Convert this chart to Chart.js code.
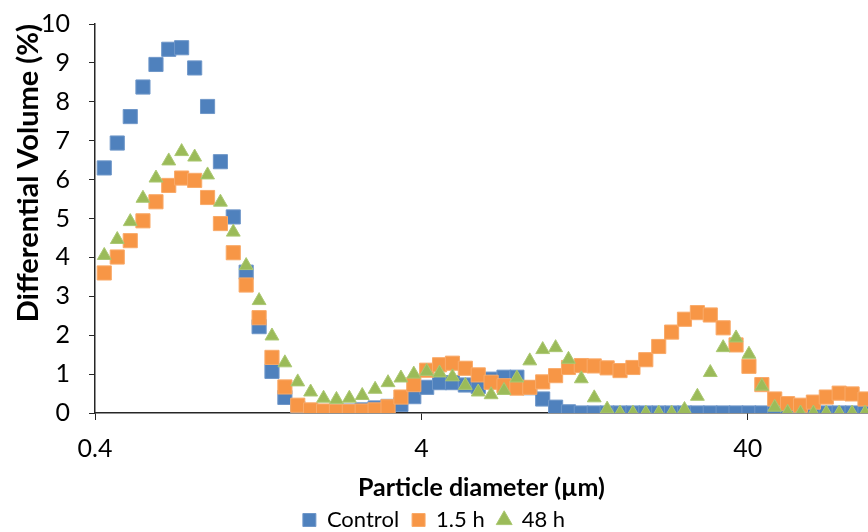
<!DOCTYPE html>
<html>
<head>
<meta charset="utf-8">
<script src="https://cdn.jsdelivr.net/npm/chart.js@4.4.1/dist/chart.umd.min.js"></script>
<style>
	html, body { margin: 0; padding: 0; background: #fff; overflow: hidden; }
	canvas { display: block; }
</style>
</head>
<body>
<canvas id="myChartScatter" width="868" height="532"></canvas>
<script>
// diametro das particulas (um)
var diametros = [0.427, 0.468, 0.513, 0.561, 0.615, 0.673, 0.737, 0.808, 0.885, 0.969,
	1.061, 1.162, 1.273, 1.394, 1.527, 1.672, 1.831, 2.006, 2.197, 2.406,
	2.635, 2.886, 3.161, 3.462, 3.791, 4.152, 4.547, 4.980, 5.454, 5.973,
	6.542, 7.164, 7.846, 8.593, 9.412, 10.31, 11.29, 12.36, 13.54, 14.83,
	16.24, 17.79, 19.48, 21.34, 23.37, 25.59, 28.03, 30.70, 33.62, 36.82,
	40.33, 44.17, 48.37, 52.98, 58.02, 63.54, 69.60, 76.22, 83.48, 91.44];

var controle = [6.30, 6.94, 7.62, 8.38, 8.96, 9.35, 9.39, 8.87, 7.88, 6.46,
	5.04, 3.62, 2.22, 1.07, 0.40, 0.12, 0.06, 0.04, 0.04, 0.05,
	0.08, 0.13, 0.17, 0.22, 0.42, 0.66, 0.78, 0.78, 0.72, 0.68,
	0.87, 0.92, 0.92, 0.65, 0.36, 0.15, 0.03, 0, 0, 0,
	0, 0, 0, 0, 0, 0, 0, 0, 0, 0,
	0, 0, 0, 0, 0, 0, 0, 0, 0, 0];

var h1_5 = [3.60, 4.01, 4.43, 4.94, 5.43, 5.85, 6.04, 5.98, 5.54, 4.87,
	4.12, 3.29, 2.45, 1.43, 0.67, 0.20, 0.08, 0.05, 0.04, 0.04,
	0.05, 0.08, 0.16, 0.41, 0.73, 1.10, 1.24, 1.28, 1.15, 0.98,
	0.79, 0.70, 0.64, 0.66, 0.80, 0.96, 1.17, 1.22, 1.21, 1.16,
	1.09, 1.17, 1.37, 1.71, 2.08, 2.41, 2.58, 2.52, 2.19, 1.75,
	1.20, 0.73, 0.36, 0.24, 0.20, 0.28, 0.41, 0.51, 0.49, 0.36];

var h48 = [4.05, 4.46, 4.92, 5.52, 6.04, 6.48, 6.72, 6.58, 6.12, 5.42,
	4.65, 3.79, 2.89, 1.98, 1.29, 0.80, 0.54, 0.38, 0.35, 0.38,
	0.45, 0.61, 0.78, 0.90, 1.00, 1.07, 1.03, 0.93, 0.71, 0.54,
	0.47, 0.58, 0.90, 1.34, 1.63, 1.68, 1.38, 0.88, 0.39, 0.10,
	0, 0, 0, 0, 0, 0.09, 0.43, 1.04, 1.68, 1.93,
	1.51, 0.69, 0.15, 0.02, 0, 0, 0, 0, 0, 0];

var ticksX = [0.4, 4, 40];

function pontos(valores)
{
	return diametros.map(function (d, i) { return { x: d, y: valores[i] }; });
}

var fonte = "Lato, 'Open Sans', sans-serif";

var ctx = document.getElementById('myChartScatter').getContext('2d');
var chart = new Chart(ctx, {
	type: 'scatter',
	data: {
		datasets: [
		{
			label: 'Control',
			data: pontos(controle),
			order: 2, // desenhado por baixo, como no Excel
			pointStyle: 'rect',
			pointRadius: 10,
			pointHoverRadius: 10,
			backgroundColor: '#4F81BD',
			borderColor: '#6f97c9',
			borderWidth: 1
		},
		{
			label: '1.5 h',
			data: pontos(h1_5),
			order: 1,
			pointStyle: 'rect',
			pointRadius: 10,
			pointHoverRadius: 10,
			backgroundColor: '#F79646',
			borderColor: '#f9aa69',
			borderWidth: 1
		},
		{
			label: '48 h',
			data: pontos(h48),
			order: 0,
			pointStyle: 'triangle',
			pointRadius: 8,
			pointHoverRadius: 8,
			backgroundColor: '#9BBB59',
			borderColor: '#abc873',
			borderWidth: 1
		}]
	},
	options: {
		responsive: false,
		animation: false,
		layout: {
			autoPadding: false, // senao o raio dos pontos tira 11px da direita
			padding: { left: 0, right: 0, top: 24, bottom: -9 }
		},
		plugins: {
			tooltip: { enabled: false },
			legend: {
				position: 'bottom',
				labels: {
					usePointStyle: true,
					boxWidth: 13,
					boxHeight: 13,
					padding: 13,
					color: '#000',
					font: { family: fonte, size: 22 },
					sort: function (a, b) { return a.datasetIndex - b.datasetIndex; }
				}
			}
		},
		scales: {
			x: {
				type: 'logarithmic',
				min: 0.4,
				max: 93.4,
				afterBuildTicks: function (scale) {
					scale.ticks = ticksX.map(function (v) { return { value: v }; });
				},
				afterFit: function (scale) {
					scale.height = 83;
					scale.paddingLeft = 0;
					scale.paddingRight = 0;
				},
				ticks: {
					color: '#000',
					padding: 14,
					maxRotation: 0,
					autoSkip: false,
					font: { family: fonte, size: 25 },
					callback: function (v) { return String(v); }
				},
				grid: { drawOnChartArea: false, drawTicks: true, tickLength: 7, color: '#262626' },
				border: { color: '#262626', width: 1.5 },
				title: {
					display: true,
					text: 'Particle diameter (µm)',
					color: '#000',
					padding: { top: 0, bottom: -4 },
					font: { family: fonte, size: 25, weight: 'bold', lineHeight: 1 }
				}
			},
			y: {
				min: 0,
				max: 10,
				afterFit: function (scale) {
					scale.width = 95;
					scale.paddingTop = 0;
					scale.paddingBottom = 0;
				},
				ticks: {
					stepSize: 1,
					color: '#000',
					padding: 19,
					font: { family: fonte, size: 25 }
				},
				grid: { drawOnChartArea: false, drawTicks: true, tickLength: 6, color: '#262626' },
				border: { color: '#262626', width: 1.5 },
				title: {
					display: true,
					text: 'Differential Volume (%)',
					align: 'end',
					color: '#000',
					padding: { top: 14, bottom: 0 },
					font: { family: fonte, size: 29, weight: 'bold', lineHeight: 1 }
				}
			}
		}
	}
});
</script>
</body>
</html>
